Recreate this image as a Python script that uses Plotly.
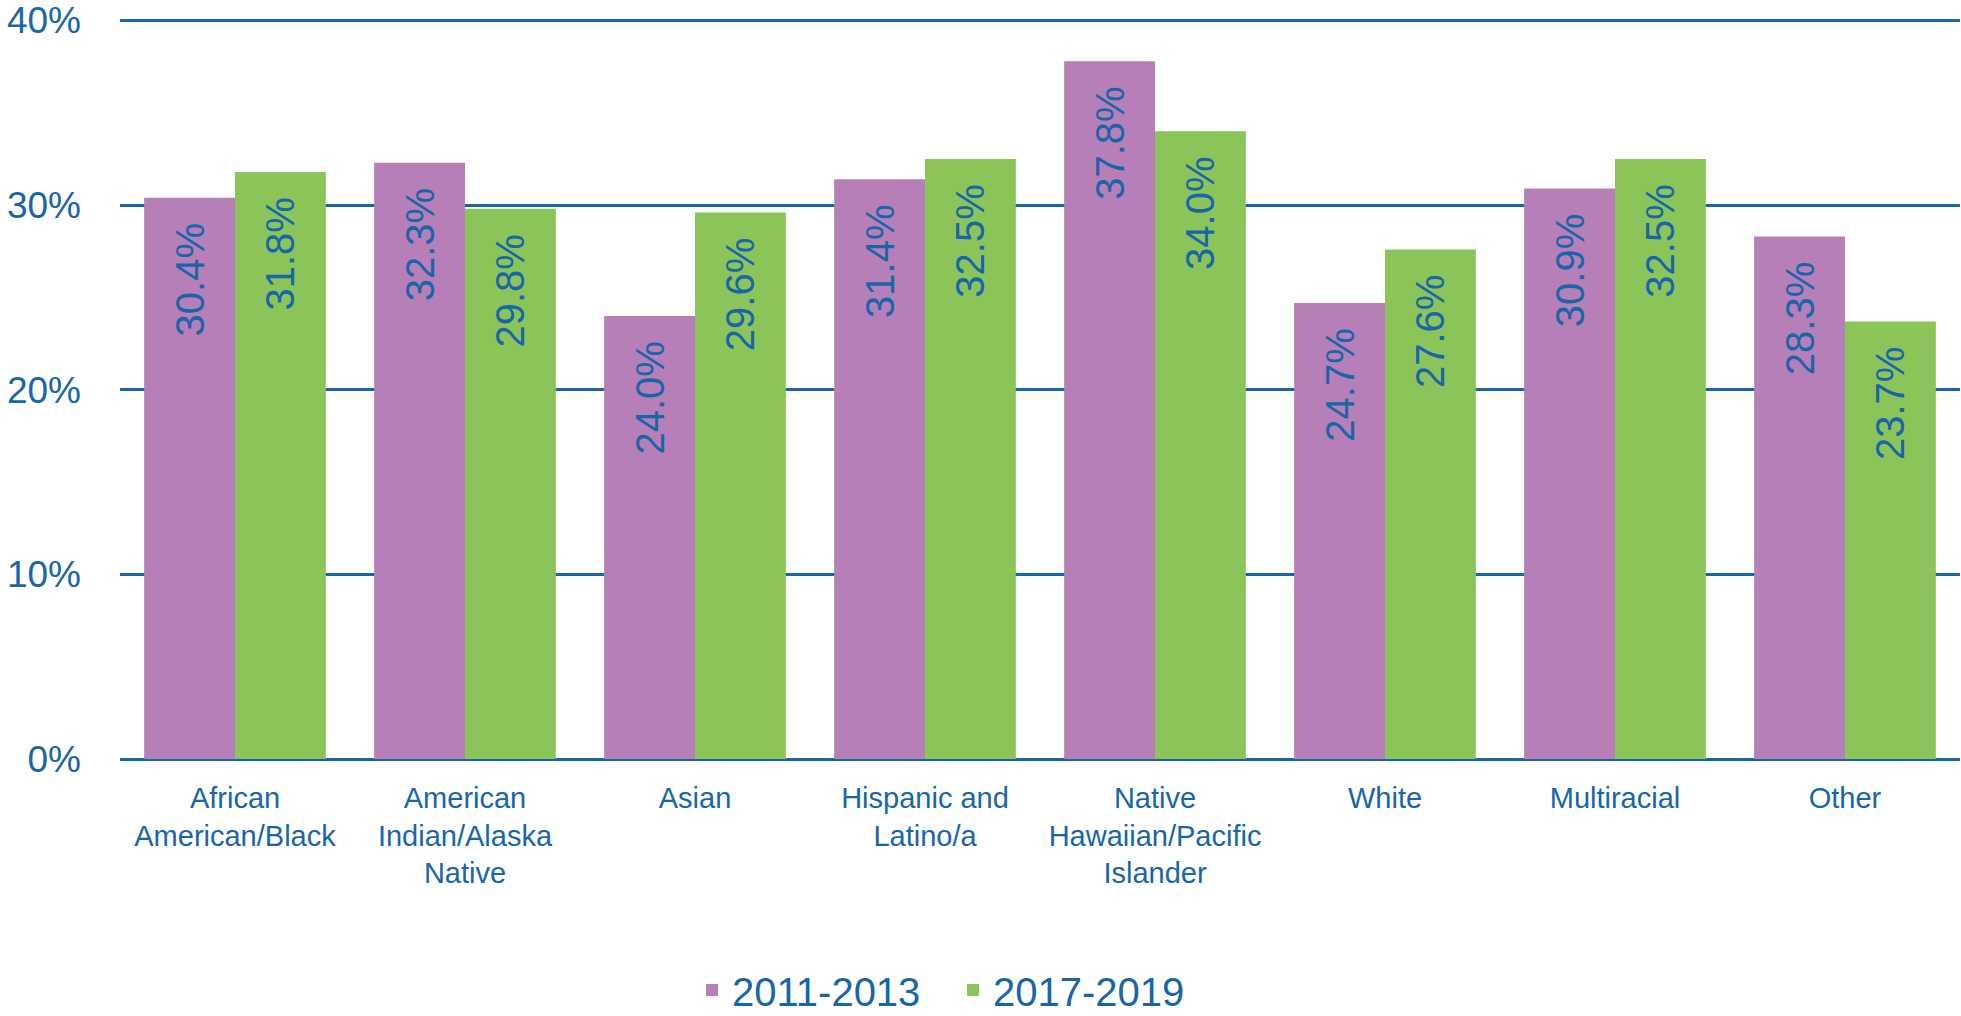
import plotly.graph_objects as go

# categories and values (percent)
categories = [
    "African<br>American/Black",
    "American<br>Indian/Alaska<br>Native",
    "Asian",
    "Hispanic and<br>Latino/a",
    "Native<br>Hawaiian/Pacific<br>Islander",
    "White",
    "Multiracial",
    "Other",
]
vals_2011_2013 = [30.4, 32.3, 24.0, 31.4, 37.8, 24.7, 30.9, 28.3]
vals_2017_2019 = [31.8, 29.8, 29.6, 32.5, 34.0, 27.6, 32.5, 23.7]
y_ticks = [0, 10, 20, 30, 40]
y_tick_labels = ["0%", "10%", "20%", "30%", "40%"]

BLUE = "#1765AB"
PURPLE = "#B77FB7"
GREEN = "#8BC55A"
FONT = "Liberation Sans, Arial, sans-serif"
PAD = "\u00a0\u00a0"  # keeps the label a little below the bar top


def bar_trace(name, values, color):
    return go.Bar(
        x=categories,
        y=values,
        name=name,
        marker=dict(color=color, line=dict(width=0)),
        text=[f"{v:.1f}%{PAD}" for v in values],
        textposition="inside",
        insidetextanchor="end",
        textangle=-90,
        insidetextfont=dict(family=FONT, size=40, color=BLUE),
        hovertemplate="%{y:.1f}%<extra>" + name + "</extra>",
    )


fig = go.Figure()
fig.add_trace(bar_trace("2011-2013", vals_2011_2013, PURPLE))
fig.add_trace(bar_trace("2017-2019", vals_2017_2019, GREEN))

fig.update_layout(
    width=1961,
    height=1016,
    barmode="group",
    bargap=0.21,
    bargroupgap=0,
    plot_bgcolor="white",
    paper_bgcolor="white",
    margin=dict(l=120, r=1, t=15, b=257, autoexpand=False),
    font=dict(family=FONT, color=BLUE),
    uniformtext=dict(minsize=8, mode="show"),
    legend=dict(
        orientation="h",
        xref="container",
        yref="container",
        x=0.486,
        xanchor="center",
        y=0.0256,
        yanchor="middle",
        font=dict(family=FONT, size=40, color=BLUE),
        entrywidth=216,
        entrywidthmode="pixels",
        tracegroupgap=0,
    ),
)
# range a touch above 40 so the top gridline is still drawn
fig.update_yaxes(
    range=[0, 40.3],
    tickvals=y_ticks,
    ticktext=y_tick_labels,
    tickfont=dict(family=FONT, size=37, color=BLUE),
    showgrid=True,
    gridcolor=BLUE,
    gridwidth=3,
    zeroline=True,
    zerolinecolor=BLUE,
    zerolinewidth=3,
    showline=False,
    automargin=False,
    ticklabeloverflow="allow",
    ticklabelstandoff=38,
)
fig.update_xaxes(
    tickfont=dict(family=FONT, size=29, color=BLUE),
    showgrid=False,
    showline=False,
    automargin=False,
    ticklabelstandoff=19,
)

# drop the default 8px body margin so the figure fills the window
fig.write_html(
    "out.html",
    config={"displayModeBar": False},
    post_script="document.body.style.margin = '0';",
)
